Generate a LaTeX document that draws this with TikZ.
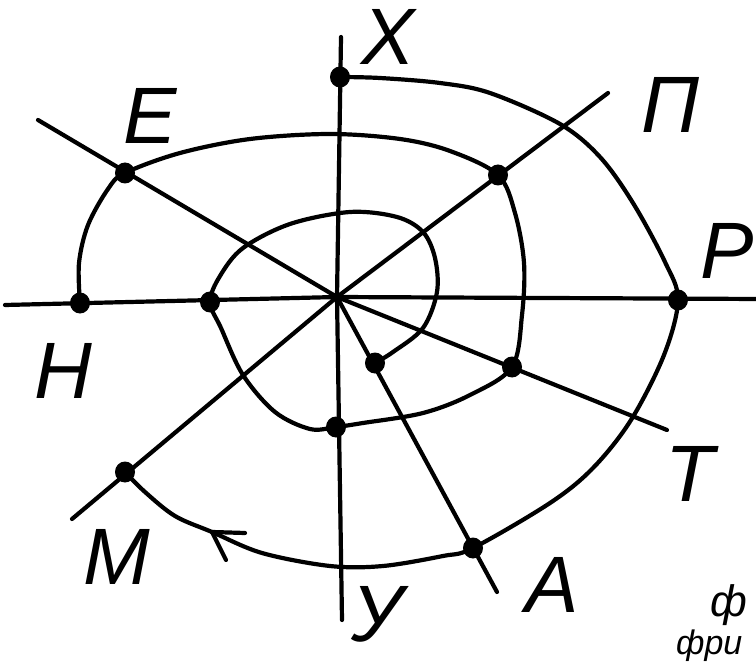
\documentclass[tikz,border=0pt]{standalone}
\usepackage{fontspec}
\usetikzlibrary{shapes.geometric}
\setmainfont{Liberation Sans}
\begin{document}
\begin{tikzpicture}[x=1pt,y=-1pt,
  ax/.style={line width=4.2pt,line cap=round,black},
  sp/.style={line width=4.2pt,line cap=round,line join=round,black},
  dotc/.style={ellipse,fill=black,inner sep=0pt,minimum width=20pt,minimum height=21pt},
  lbl/.style={font=\fontsize{80}{80}\selectfont\itshape,inner sep=0pt,anchor=center},
  note/.style={inner sep=0pt,anchor=base west}]
\useasboundingbox (0,0) rectangle (756,666);
\clip (0,0) rectangle (756,666);
\fill[white] (0,0) rectangle (756,666);
% axes
\coordinate (C) at (337,297);
\coordinate (Vt) at (341,37);
\coordinate (Vb) at (342,620);
\coordinate (Hl) at (5,305);
\coordinate (Hr) at (760,299);
\coordinate (Pe) at (608,93);
\coordinate (Me) at (72,519);
\coordinate (Ee) at (38,120);
\coordinate (Te) at (667,430);
\coordinate (Ae) at (497,592);
\draw[ax] (Vt) -- (C) -- (Vb);
\draw[ax] (Hl) -- (C) -- (Hr);
\draw[ax] (Pe) -- (C) -- (Me);
\draw[ax] (Ee) -- (C) -- (Te);
\draw[ax] (C) -- (Ae);
% dots
\coordinate (dA1) at (375,363);
\coordinate (dH1) at (210,302);
\coordinate (dY1) at (336,427);
\coordinate (dT) at (512,367);
\coordinate (dPi) at (498,175);
\coordinate (dE) at (125,173);
\coordinate (dH2) at (80,303);
\coordinate (dX) at (340,77);
\coordinate (dP) at (678,300);
\coordinate (dA2) at (473,548);
\coordinate (dM) at (125,472);
\coordinate (arr) at (212,532);
% inner spiral
\draw[sp] plot[smooth,tension=0.55] coordinates {
  (dA1) (393,352) (423,328) (437,292) (435,258) (423,232) (397,217) (350,212)
  (290,224) (243,248) (220,276) (dH1) (221,328) (243,375) (275,412) (310,429)
  (dY1) (363,423) (423,413) (470,395) (dT) (522,315) (524,263) (515,213) (dPi)
  (450,151) (400,139) (330,134) (250,139) (180,153) (dE) (108,189) (88,225) (79,263) (dH2)};
% outer spiral
\draw[sp] plot[smooth,tension=0.55] coordinates {
  (dX) (380,78) (440,83) (490,93) (560,124) (600,157) (633,203) (665,262) (dP)
  (664,355) (631,420) (593,468) (550,503) (dA2) (443,556) (383,566) (330,566)
  (262,553) (arr) (175,516) (145,492) (dM)};
\draw[sp] (arr) -- ++(33,1);
\draw[sp] (arr) -- ++(14,28);
\foreach \d in {dA1,dH1,dY1,dT,dPi,dE,dH2,dX,dP,dA2,dM}
  \node[dotc] (n\d) at (\d) {};
% labels
\node[lbl] (lX) at (388,37) {Х};
\node[lbl] (lE) at (150,116) {Е};
\node[lbl] (lPi) at (670,105) {П};
\node[lbl] (lR) at (727,251) {Р};
\node[lbl] (lH) at (63,371) {Н};
\node[lbl] (lM) at (117,557) {М};
\node[lbl] (lY) at (377,614) {У};
\node[lbl] (lA) at (552,585) {А};
\node[lbl] (lT) at (690,474) {Т};
\node[note,font=\fontsize{44}{44}\selectfont\itshape] (n1) at (710,616) {ф};
\node[note,font=\fontsize{34}{34}\selectfont\itshape] (n2) at (676,654) {фри};
\end{tikzpicture}
\end{document}
